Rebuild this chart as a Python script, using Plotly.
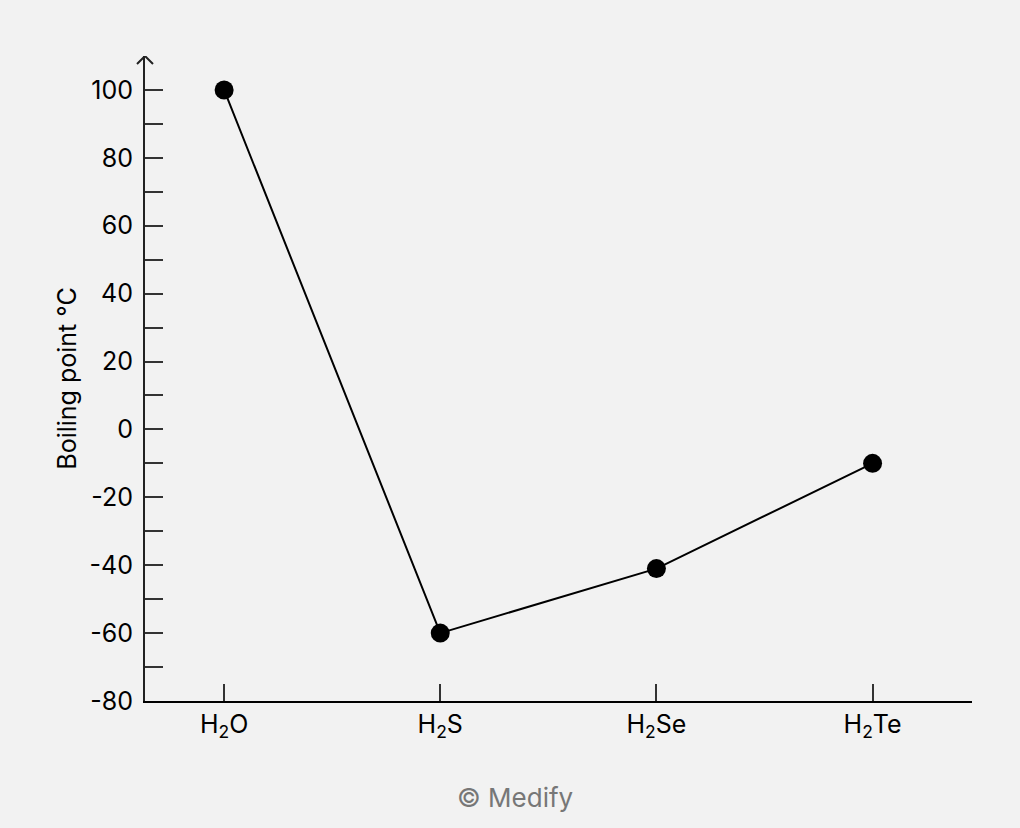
import plotly.graph_objects as go

compounds = ['H<sub>2</sub>O', 'H<sub>2</sub>S', 'H<sub>2</sub>Se', 'H<sub>2</sub>Te']
boiling_point = [100, -60, -41, -10]
y_ticks = [-80, -60, -40, -20, 0, 20, 40, 60, 80, 100]
y_labels = ['-80', '-60', '-40', '-20', '0', '20', '40', '60', '80', '100']

FONT = 'Inter, Roboto, Liberation Sans, sans-serif'
x_pos = list(range(len(compounds)))

fig = go.Figure(go.Scatter(
    x=x_pos, y=boiling_point, mode='lines+markers',
    line=dict(color='black', width=2),
    marker=dict(color='black', size=19),
    showlegend=False,
))

fig.update_layout(
    width=1020, height=828,
    margin=dict(l=145, r=48, t=56, b=127),
    paper_bgcolor='#f2f2f2', plot_bgcolor='#f2f2f2',
    font=dict(family=FONT, size=25, color='black'),
)
fig.update_xaxes(
    range=[-0.366, 3.46], tickvals=x_pos, ticktext=compounds,
    showgrid=False, zeroline=False,
    showline=True, linecolor='black', linewidth=2,
    ticks='inside', ticklen=17, tickwidth=1.5, tickcolor='#333',
    tickfont=dict(size=25),
)
fig.update_yaxes(
    range=[-80, 110], tickvals=y_ticks, ticktext=y_labels,
    showgrid=False, zeroline=False,
    showline=True, linecolor='#222', linewidth=2,
    ticks='inside', ticklen=18, tickwidth=1.5, tickcolor='#333',
    minor=dict(dtick=10, tick0=0, ticks='inside', ticklen=18, tickwidth=1.5, tickcolor='#333'),
    tickfont=dict(size=25), ticklabelstandoff=5,
    title=dict(text='Boiling point °C', font=dict(size=25), standoff=6),
)

# arrow head on top of the y axis
fig.add_shape(
    type='path', xref='paper', yref='y',
    xsizemode='pixel', ysizemode='pixel', xanchor=0, yanchor=110,
    path='M-8,-8 L0,0 L8,-8',
    line=dict(color='#222', width=2),
)

fig.add_annotation(
    text='© Medify', xref='paper', yref='paper', x=0.447, y=-0.176,
    showarrow=False, font=dict(size=26, color='#777'),
)

# page has a default body margin; drop it so the figure fills the window
fig.write_html('out.html', config={'displayModeBar': False},
               post_script="document.body.style.margin='0';document.body.style.background='#f2f2f2';")
